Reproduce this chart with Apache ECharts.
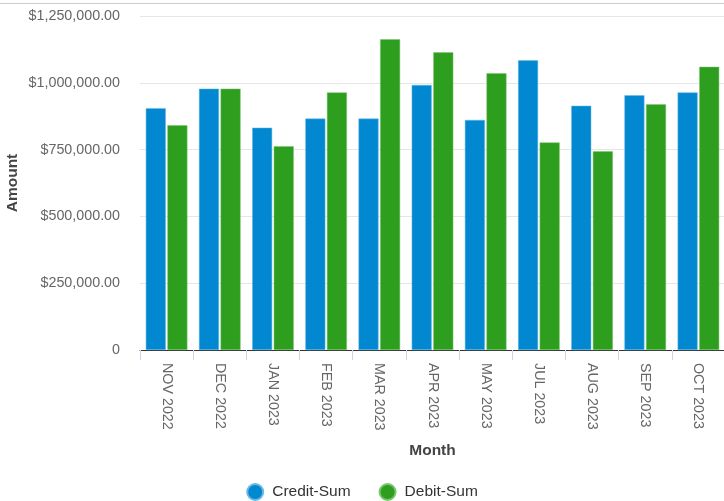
<!DOCTYPE html>
<html>
<head>
<meta charset="utf-8">
<script src="https://cdn.jsdelivr.net/npm/echarts@6/dist/echarts.min.js"></script>
<style>
  html, body { margin: 0; padding: 0; background: #fff; }
  #chart { width: 724px; height: 501px; }
</style>
</head>
<body>
<div id="chart"></div>
<script>
const months = ['NOV 2022', 'DEC 2022', 'JAN 2023', 'FEB 2023', 'MAR 2023', 'APR 2023',
  'MAY 2023', 'JUL 2023', 'AUG 2023', 'SEP 2023', 'OCT 2023']
const creditSum = [905000, 978000, 832000, 866000, 866000, 992000, 861000, 1084000, 914000, 953000, 964000]
const debitSum = [841000, 978000, 763000, 964000, 1163000, 1114000, 1036000, 777000, 744000, 920000, 1060000]
const yTicks = [0, 250000, 500000, 750000, 1000000, 1250000]

const money = (v) => {
  if (v === 0) return '0'
  return '$' + v.toLocaleString('en-US', { minimumFractionDigits: 2, maximumFractionDigits: 2 })
}

const chart = echarts.init(document.getElementById('chart'))
chart.setOption({
  textStyle: { fontFamily: 'Liberation Sans, Arial, sans-serif' },
  animation: false,
  graphic: [
    {
      type: 'line',
      shape: { x1: 0, y1: 3.5, x2: 724, y2: 3.5 },
      style: { stroke: '#cccccc', lineWidth: 1 },
    },
  ],
  grid: {
    top: 16,
    left: 140,
    right: -1,
    bottom: 151,
    containLabel: false,
    outerBoundsMode: 'none',
  },
  legend: {
    top: 478,
    left: 'center',
    icon: 'circle',
    itemWidth: 16,
    itemHeight: 16,
    itemGap: 28,
    textStyle: { fontSize: 15.5, color: '#333333', padding: [0, 0, 0, 4] },
    data: ['Credit-Sum', 'Debit-Sum'],
  },
  xAxis: {
    type: 'category',
    data: months,
    name: 'Month',
    nameLocation: 'middle',
    nameGap: 93,
    nameTextStyle: { fontSize: 15.5, fontWeight: 'bold', color: '#444444' },
    axisLine: { lineStyle: { color: '#333333', width: 1 } },
    axisTick: { show: true, length: 10, lineStyle: { color: '#ccd6eb' } },
    axisLabel: { rotate: -90, margin: 13, fontSize: 14.3, color: '#666666' },
  },
  yAxis: {
    type: 'value',
    min: yTicks[0],
    max: yTicks[yTicks.length - 1],
    interval: 250000,
    name: 'Amount',
    nameLocation: 'middle',
    nameGap: 119,
    nameMoveOverlap: false,
    nameTextStyle: { fontSize: 15.5, fontWeight: 'bold', color: '#444444' },
    axisLine: { show: false },
    axisTick: { show: false },
    axisLabel: { formatter: money, fontSize: 14.3, color: '#666666', margin: 20 },
    splitLine: { lineStyle: { color: '#e6e6e6' } },
  },
  series: [
    {
      name: 'Credit-Sum',
      type: 'bar',
      data: creditSum,
      barWidth: 20,
      barGap: '8%',
      itemStyle: { color: '#0288d1', borderColor: '#6bb8e4', borderWidth: 0.5 },
    },
    {
      name: 'Debit-Sum',
      type: 'bar',
      data: debitSum,
      barWidth: 20,
      itemStyle: { color: '#2e9e1e', borderColor: '#7cc470', borderWidth: 0.5 },
    },
  ],
})
</script>
</body>
</html>
